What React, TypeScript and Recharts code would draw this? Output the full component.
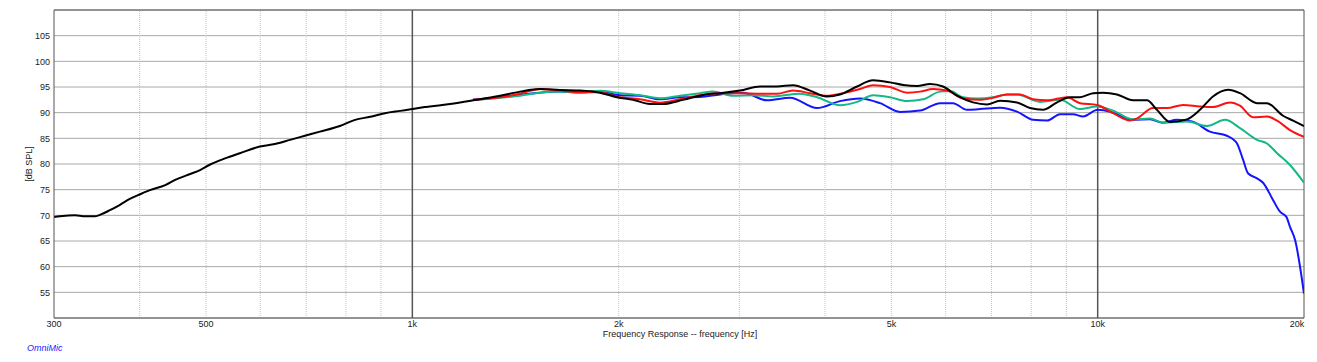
import React from "react";
import { LineChart, Line, XAxis, YAxis, CartesianGrid, ReferenceLine } from "recharts";

// Frequencies (Hz) and levels (dB SPL)
const blackFreq = [300, 306, 322, 333, 344, 350, 362, 374.5, 387, 400.6, 414, 436, 450.6, 474, 490, 507, 533, 560, 599, 630, 663, 697, 733, 784, 825, 868, 912, 960, 1000, 1043, 1061, 1135, 1226, 1343, 1436, 1536, 1642, 1756, 1878, 1989, 2099, 2222, 2322, 2483, 2692, 2812, 3007, 3217, 3405, 3593, 3805, 4028, 4207, 4456, 4701, 4977, 5200, 5450, 5694, 5947, 6234, 6578, 6895, 7203, 7626, 7967, 8322, 8724, 9114, 9424, 9845, 10180, 10670, 11260, 11800, 12200, 12750, 13500, 14100, 14730, 15500, 16130, 17080, 17660, 18640, 19280, 20000];
const blackDb = [69.65, 69.8, 70.0, 69.8, 69.8, 70.1, 71.0, 72.05, 73.2, 74.1, 74.9, 75.9, 76.9, 78.05, 78.8, 79.9, 81.1, 82.1, 83.4, 83.9, 84.7, 85.5, 86.3, 87.4, 88.6, 89.2, 89.9, 90.35, 90.7, 91.1, 91.2, 91.7, 92.4, 93.3, 94.1, 94.6, 94.4, 94.3, 93.9, 93.0, 92.5, 91.7, 91.7, 92.5, 93.6, 93.8, 94.3, 95.1, 95.1, 95.35, 94.3, 93.15, 93.55, 95.1, 96.3, 95.9, 95.4, 95.2, 95.6, 95.1, 93.3, 92.0, 91.6, 92.3, 92.0, 90.9, 90.55, 92.0, 93.0, 93.0, 93.8, 93.9, 93.55, 92.4, 92.4, 90.55, 88.2, 88.7, 90.55, 93.15, 94.45, 93.8, 91.85, 91.85, 89.4, 88.45, 87.4];

const redFreq = [1226, 1343, 1436, 1536, 1642, 1756, 1878, 1989, 2149, 2298, 2458, 2629, 2812, 3007, 3217, 3405, 3593, 3805, 4028, 4250, 4500, 4701, 4977, 5270, 5506, 5751, 6028, 6360, 6734, 7036, 7374, 7703, 8048, 8436, 9022, 9424, 9977, 10530, 11150, 11415, 12040, 12620, 13320, 14100, 14730, 15600, 16130, 16850, 17660, 18270, 19080, 20000];
const redDb = [92.5, 93.0, 93.7, 94.6, 94.3, 94.0, 94.0, 93.1, 92.6, 91.95, 92.6, 93.4, 93.8, 93.8, 93.7, 93.7, 94.3, 93.8, 93.3, 93.8, 94.6, 95.35, 95.0, 93.9, 94.1, 94.6, 94.3, 92.75, 92.5, 92.9, 93.55, 93.55, 92.6, 92.4, 93.0, 91.85, 91.5, 89.9, 88.45, 88.9, 90.9, 90.9, 91.5, 91.2, 91.1, 92.0, 91.35, 89.1, 89.25, 88.45, 86.6, 85.3];

const greenFreq = [1226, 1343, 1436, 1536, 1642, 1756, 1878, 2009, 2149, 2298, 2458, 2629, 2747, 2938, 3142, 3360, 3679, 3895, 4207, 4456, 4701, 4977, 5270, 5562, 5888, 6088, 6360, 6668, 7036, 7374, 7626, 8240, 8813, 9424, 9977, 10530, 11260, 11920, 12450, 13500, 14440, 15340, 16130, 17080, 17660, 18270, 19080, 20000];
const greenDb = [92.4, 92.9, 93.3, 93.9, 94.1, 93.9, 94.25, 93.8, 93.4, 92.8, 93.3, 93.8, 94.1, 93.3, 93.4, 93.15, 93.7, 93.0, 91.45, 92.1, 93.4, 93.0, 92.25, 92.6, 94.1, 94.2, 93.0, 92.75, 93.0, 93.55, 93.55, 92.1, 92.5, 90.7, 91.2, 90.4, 88.7, 88.85, 88.05, 88.3, 87.4, 88.6, 87.0, 84.7, 84.0, 82.1, 79.8, 76.35];

const blueFreq = [1226, 1343, 1436, 1536, 1642, 1756, 1878, 2009, 2149, 2298, 2458, 2629, 2812, 3038, 3293, 3557, 3895, 4207, 4500, 4813, 5147, 5506, 5888, 6150, 6447, 6734, 7203, 7626, 8048, 8436, 8813, 9204, 9520, 10000, 10530, 11260, 11920, 12450, 13050, 13730, 14580, 15440, 15760, 15970, 16300, 16570, 17080, 17430, 18030, 18450, 18850, 19080, 19410, 20000];
const blueDb = [92.55, 93.0, 93.5, 93.9, 94.1, 94.0, 94.1, 93.4, 93.3, 92.6, 93.0, 93.05, 93.55, 93.9, 92.4, 92.9, 90.9, 92.25, 92.75, 91.85, 90.15, 90.4, 91.85, 91.85, 90.55, 90.7, 90.95, 90.2, 88.6, 88.45, 89.7, 89.7, 89.25, 90.55, 90.0, 88.6, 88.7, 88.05, 88.6, 88.3, 86.3, 85.5, 84.8, 84.0, 80.8, 78.2, 77.2, 76.35, 72.95, 70.7, 69.7, 67.75, 65.2, 54.75];

const xTicks = [300, 500, 1000, 2000, 5000, 10000, 20000];
const xTickLabels = ["300", "500", "1k", "2k", "5k", "10k", "20k"];
const yTicks = [55, 60, 65, 70, 75, 80, 85, 90, 95, 100, 105];
const minorGridFreqs = [400, 500, 600, 700, 800, 900, 2000, 3000, 4000, 5000, 6000, 7000, 8000, 9000];
const majorGridFreqs = [1000, 10000];

const toRows = (f: number[], d: number[]) => f.map((freq, i) => ({ freq, db: d[i] }));
const series = [
  { name: "blue", color: "#1414ff", data: toRows(blueFreq, blueDb) },
  { name: "green", color: "#14b887", data: toRows(greenFreq, greenDb) },
  { name: "red", color: "#ff1010", data: toRows(redFreq, redDb) },
  { name: "black", color: "#000000", data: toRows(blackFreq, blackDb) },
];

const FONT = "'Liberation Sans', Arial, sans-serif";

const XTick = (props: any) => {
  const { x, y, payload } = props;
  const idx = xTicks.indexOf(payload.value);
  const label = idx >= 0 ? xTickLabels[idx] : String(payload.value);
  return (
    <text x={x} y={y} dy={8} textAnchor="middle" fontSize={9} fontFamily={FONT} fill="#222">
      {label}
    </text>
  );
};

export default function App() {
  return (
    <div style={{ position: "absolute", left: 0, top: 0, width: 1317, height: 362, background: "#fff" }}>
      <LineChart width={1317} height={362} margin={{ top: 10, right: 13, bottom: 0, left: 0 }}>
        <CartesianGrid vertical={false} stroke="#a8a8a8" strokeWidth={1} />
        {minorGridFreqs.map((f) => (
          <ReferenceLine key={"m" + f} x={f} stroke="#c4c4c4" strokeDasharray="1 1" strokeWidth={1} />
        ))}
        {majorGridFreqs.map((f) => (
          <ReferenceLine key={"M" + f} x={f} stroke="#555" strokeWidth={1.5} />
        ))}
        <ReferenceLine y={110} stroke="#555" strokeWidth={1} />
        <ReferenceLine x={20000} stroke="#555" strokeWidth={1} />
        <XAxis
          type="number"
          dataKey="freq"
          scale="log"
          domain={[300, 20000]}
          allowDataOverflow
          ticks={xTicks}
          tick={<XTick />}
          tickLine={false}
          tickSize={0}
          tickMargin={1}
          height={44}
          stroke="#555"
          label={{
            content: () => (
              <text x={680} y={337} textAnchor="middle" fontSize={9} fontFamily={FONT} fill="#222">
                Frequency Response -- frequency [Hz]
              </text>
            ),
          }}
        />
        <YAxis
          type="number"
          dataKey="db"
          domain={[50, 110]}
          allowDataOverflow
          ticks={yTicks}
          tickLine={false}
          tickSize={0}
          tickMargin={4}
          width={54}
          stroke="#555"
          tick={{ fontSize: 9, fontFamily: FONT, fill: "#222" }}
          label={{
            content: () => (
              <text x={32} y={164} transform="rotate(-90 32 164)" textAnchor="middle" fontSize={9} fontFamily={FONT} fill="#222">
                [dB SPL]
              </text>
            ),
          }}
        />
        {series.map((s) => (
          <Line
            key={s.name}
            data={s.data}
            dataKey="db"
            type="monotone"
            stroke={s.color}
            strokeWidth={2}
            dot={false}
            activeDot={false}
            isAnimationActive={false}
          />
        ))}
      </LineChart>
      <div
        style={{
          position: "absolute",
          left: 27,
          top: 343,
          fontFamily: FONT,
          fontStyle: "italic",
          fontSize: 9,
          color: "#1a1aff",
        }}
      >
        OmniMic
      </div>
    </div>
  );
}
